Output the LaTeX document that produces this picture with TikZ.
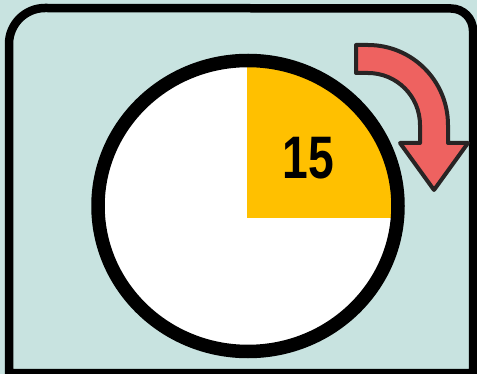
\documentclass[tikz,border=0pt]{standalone}
\usepackage{fontspec}
\setmainfont{Liberation Sans}
\definecolor{bgteal}{RGB}{200,227,224}
\definecolor{sectoryellow}{RGB}{255,192,0}
\definecolor{arrowred}{RGB}{238,98,96}
\definecolor{arrowedge}{RGB}{40,36,36}
\begin{document}
\begin{tikzpicture}[x=1pt,y=1pt,
  frame/.style={draw=black,line width=8.5pt,fill=bgteal},
  ring/.style={draw=black,line width=13.5pt},
  turnarrow/.style={fill=arrowred,draw=arrowedge,line width=4pt,line join=round},
  numlabel/.style={font=\bfseries\fontsize{60}{60}\selectfont,inner sep=0pt,xscale=0.77}]
\useasboundingbox (0,0) rectangle (477,-374);
\fill[bgteal] (0,0) rectangle (477,-374);
% frame
\draw[frame] (9,-373) -- (9,-44) arc[start angle=180,end angle=90,radius=36]
  -- (451,-8.5) arc[start angle=90,end angle=0,radius=22] -- (473,-373) -- cycle;
% clock face
\coordinate (c) at (248,-206);
\fill[white] (c) ellipse[x radius=150,y radius=145.5];
\begin{scope}
  \clip (c) ellipse[x radius=150,y radius=145.5];
  \fill[sectoryellow] (247,-218) rectangle (410,-50);
\end{scope}
\draw[ring] (c) ellipse[x radius=150,y radius=145.5];
\node[numlabel] (num) at (308.5,-158.5) {15};
% arrow
\draw[turnarrow] (356,-45) -- (368,-45) arc[start angle=90,end angle=0,radius=80]
  -- (448,-143) -- (468,-143) -- (434,-190) -- (400,-143) -- (420,-143) -- (420,-125)
  arc[start angle=0,end angle=90,radius=52] -- (356,-73) -- cycle;
\end{tikzpicture}
\end{document}
